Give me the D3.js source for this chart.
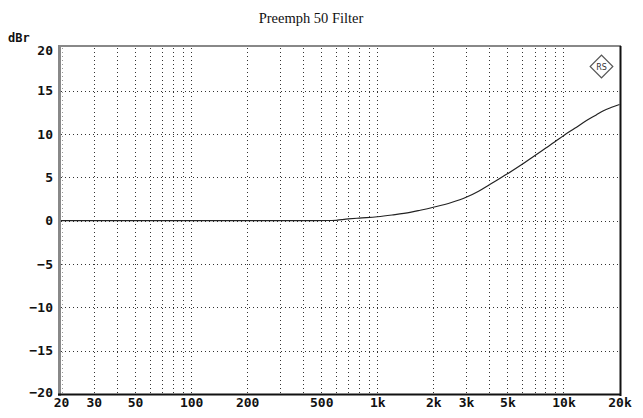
<!DOCTYPE html>
<html><head><meta charset="utf-8">
<script src="https://cdn.jsdelivr.net/npm/d3@7"></script>
<style>body{margin:0;background:#fff}svg{display:block}</style>
</head><body>
<svg id="c" width="643" height="418"></svg>
<script>
const title = "Preemph 50 Filter";
const yLabel = "dBr";
const freqs = [20, 50, 100, 200, 300, 450, 570, 700, 800, 1000, 1200, 1500, 1700, 2000, 2500, 3000, 3500, 4000, 5000, 6000, 7000, 8000, 9000, 10000, 11500, 13300, 15000, 16300, 18000, 20000];
const gains = [0, 0, 0, 0, 0, 0, 0.02, 0.2, 0.3, 0.45, 0.65, 0.95, 1.2, 1.55, 2.1, 2.7, 3.4, 4.15, 5.4, 6.5, 7.5, 8.35, 9.1, 9.8, 10.65, 11.55, 12.2, 12.65, 13.05, 13.4];
const xTickVals = [20, 30, 50, 100, 200, 500, 1000, 2000, 3000, 5000, 10000, 20000];
const xTickLabels = ["20", "30", "50", "100", "200", "500", "1k", "2k", "3k", "5k", "10k", "20k"];
const yTickVals = [20, 15, 10, 5, 0, -5, -10, -15, -20];
const xGridVals = [30,40,50,60,70,80,90,100,200,300,400,500,600,700,800,900,1000,2000,3000,4000,5000,6000,7000,8000,9000,10000];

const svg = d3.select("#c");
const x = d3.scaleLog().domain([20, 20000]).range([61, 619.5]);
const y = d3.scaleLinear().domain([-20, 20]).range([394, 47.3]);

svg.append("text").attr("x", 311).attr("y", 23).attr("text-anchor", "middle")
  .attr("font-family", "Liberation Serif, Times New Roman, serif").attr("font-size", 14.5)
  .attr("fill", "#111").text(title);
svg.append("text").attr("x", 8).attr("y", 42)
  .attr("font-family", "DejaVu Sans Mono, monospace").attr("font-weight", "bold").attr("font-size", 12)
  .attr("fill", "#111").text(yLabel);

// grid
const grid = svg.append("g").attr("stroke", "#333").attr("stroke-width", 1).attr("stroke-dasharray", "1,3");
grid.selectAll("line.v").data(xGridVals).enter().append("line")
  .attr("x1", d => Math.round(x(d)) + 0.5).attr("x2", d => Math.round(x(d)) + 0.5)
  .attr("y1", 48).attr("y2", 393);
grid.selectAll("line.h").data(yTickVals.filter(v => v > -20 && v < 20)).enter().append("line")
  .attr("y1", d => Math.round(y(d)) + 0.5).attr("y2", d => Math.round(y(d)) + 0.5)
  .attr("x1", 61).attr("x2", 619);
grid.append("line").attr("x1", 62.5).attr("x2", 62.5).attr("y1", 48).attr("y2", 393).attr("stroke", "#999");

// axes (labels only)
const xAxis = d3.axisBottom(x).tickValues(xTickVals).tickFormat((d, i) => xTickLabels[i]).tickSize(0).tickPadding(3);
const gx = svg.append("g").attr("transform", "translate(0,395)").call(xAxis);
gx.select(".domain").remove();
gx.selectAll("text").attr("font-family", "DejaVu Sans Mono, monospace").attr("font-weight", "bold")
  .attr("font-size", 13).attr("fill", "#111");

const yAxis = d3.axisLeft(y).tickValues(yTickVals).tickFormat(d => d < 0 ? "\u2212" + Math.abs(d) : String(d)).tickSize(0).tickPadding(6);
const gy = svg.append("g").attr("transform", "translate(59,0)").call(yAxis);
gy.select(".domain").remove();
gy.selectAll("text").attr("font-family", "DejaVu Sans Mono, monospace").attr("font-weight", "bold")
  .attr("font-size", 13).attr("fill", "#111");
gy.selectAll(".tick").filter(d => d === 20).select("text").attr("dy", "0.55em");
gy.selectAll(".tick").filter(d => d === -20).select("text").attr("dy", "0.2em");

// frame
svg.append("line").attr("x1", 59.5).attr("x2", 59.5).attr("y1", 45).attr("y2", 396).attr("stroke", "#888").attr("stroke-width", 3);
svg.append("line").attr("x1", 58).attr("x2", 621).attr("y1", 46).attr("y2", 46).attr("stroke", "#888").attr("stroke-width", 2);
svg.append("line").attr("x1", 620.5).attr("x2", 620.5).attr("y1", 46).attr("y2", 396).attr("stroke", "#111").attr("stroke-width", 2);
svg.append("line").attr("x1", 58).attr("x2", 621).attr("y1", 394.5).attr("y2", 394.5).attr("stroke", "#111").attr("stroke-width", 2);

// curve
const line = d3.line().x((d, i) => x(freqs[i])).y(d => y(d)).curve(d3.curveMonotoneX);
svg.append("path").datum(gains).attr("d", line).attr("fill", "none").attr("stroke", "#222").attr("stroke-width", 1.2);

// logo
const lg = svg.append("g").attr("transform", "translate(601.5,66.5)");
lg.append("rect").attr("x", -8).attr("y", -8).attr("width", 16).attr("height", 16)
  .attr("transform", "rotate(45)").attr("fill", "#fff").attr("stroke", "#555").attr("stroke-width", 1.2);
lg.append("text").attr("x", 0).attr("y", 3).attr("text-anchor", "middle").attr("font-size", 8)
  .attr("font-family", "DejaVu Sans, sans-serif").attr("fill", "#333").text("RS");
</script>
</body></html>
